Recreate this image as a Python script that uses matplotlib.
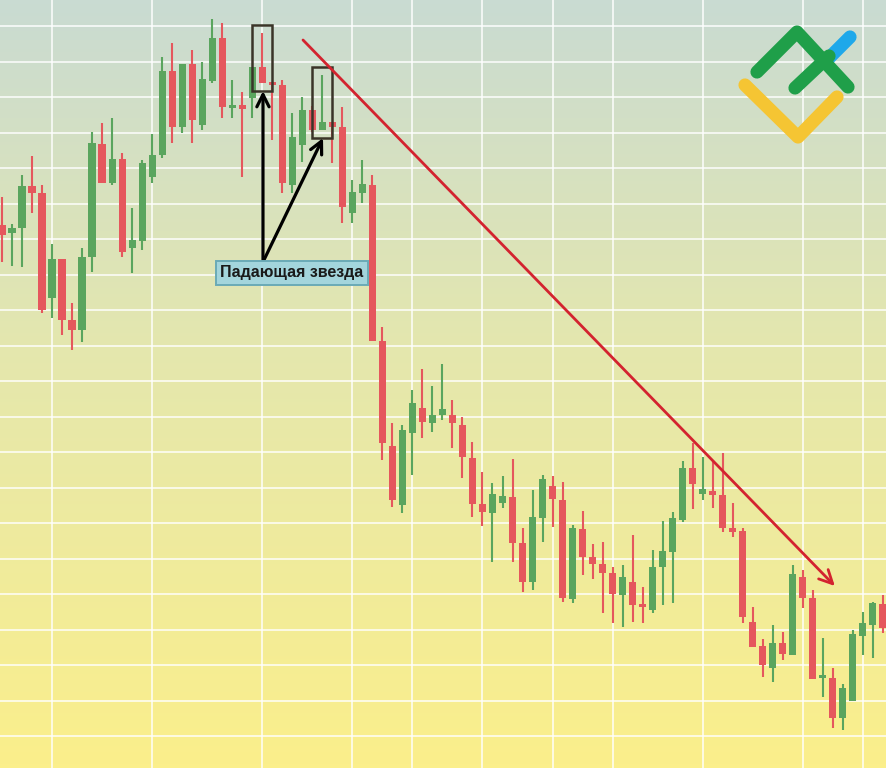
import numpy as np
import matplotlib
matplotlib.use("Agg")
import matplotlib.pyplot as plt
from matplotlib.colors import LinearSegmentedColormap
from matplotlib.lines import Line2D

# ------------ Data (OHLC, one candle per bar) ---------------
opens = [543, 535, 540, 582, 575, 470, 509, 448, 438, 511,
         624, 585, 609, 520, 527, 591, 613, 697, 641, 704,
         643, 687, 730, 660, 663, 670, 701, 686, 683, 583,
         623, 658, 638, 646, 641, 555, 575, 583, 427, 322,
         263, 335, 360, 345, 353, 353, 343, 310, 264, 255,
         265, 271, 225, 186, 250, 282, 268, 169, 239, 211,
         204, 195, 173, 186, 163, 158, 201, 216, 248, 300,
         274, 277, 273, 240, 237, 146, 122, 100, 125, 113,
         191, 170, 90, 90, 50, 67, 132, 143, 164]
highs = [571, 544, 593, 612, 583, 524, 509, 465, 520, 636,
         645, 650, 615, 560, 608, 634, 711, 725, 704, 718,
         706, 749, 745, 688, 676, 701, 735, 686, 688, 655,
         671, 662, 693, 646, 661, 588, 608, 593, 441, 345,
         343, 378, 399, 382, 404, 368, 351, 326, 296, 285,
         292, 309, 240, 278, 293, 292, 286, 243, 257, 224,
         226, 201, 203, 233, 181, 218, 247, 256, 307, 325,
         311, 308, 315, 265, 240, 161, 129, 143, 136, 203,
         198, 178, 130, 100, 84, 138, 156, 166, 173]
lows = [506, 502, 501, 555, 455, 450, 433, 418, 426, 496,
        585, 583, 511, 495, 518, 585, 610, 625, 635, 625,
        638, 685, 650, 650, 591, 650, 685, 628, 575, 575,
        606, 636, 638, 605, 545, 545, 565, 427, 308, 261,
        255, 293, 330, 336, 348, 320, 290, 251, 242, 206,
        260, 206, 176, 178, 226, 241, 166, 165, 193, 189,
        155, 145, 141, 146, 145, 155, 163, 165, 246, 259,
        268, 260, 236, 231, 145, 121, 91, 86, 108, 113,
        160, 89, 71, 40, 38, 67, 113, 110, 135]
closes = [533, 540, 582, 575, 458, 509, 448, 438, 511, 625,
          585, 609, 516, 528, 605, 613, 697, 641, 704, 648,
          689, 730, 661, 663, 659, 701, 685, 683, 585, 631,
          658, 638, 646, 641, 561, 576, 584, 427, 325, 268,
          338, 365, 346, 353, 359, 345, 311, 264, 256, 274,
          272, 225, 186, 251, 289, 269, 170, 240, 211, 204,
          195, 174, 191, 163, 161, 201, 217, 250, 300, 284,
          279, 273, 240, 236, 151, 121, 103, 125, 114, 194,
          170, 89, 92, 50, 80, 134, 145, 165, 140]

grid_candles = [5, 15, 26, 35, 41, 48, 55, 61, 70, 80, 86]
label_text = "Падающая звезда"
star_candles = [26, 32]

UP = "#5aa55e"
DOWN = "#e5575d"

o = np.array(opens)
h = np.array(highs)
l = np.array(lows)
c = np.array(closes)
idx = np.arange(len(o))

# ------------ Plot Setup ---------------
fig = plt.figure(figsize=(8.87, 7.68), dpi=100)
ax = fig.add_axes([0, 0, 1, 1])
x0, x1 = -0.2, 88.41
y0, y1 = 0, 768
ax.set_xlim(x0, x1)
ax.set_ylim(y0, y1)

# background gradient
cmap = LinearSegmentedColormap.from_list(
    "bg", [(0.0, "#fbef8b"), (0.55, "#e4e7ae"), (1.0, "#c9dbd2")])
grad = np.linspace(0, 1, 256).reshape(-1, 1)
ax.imshow(grad, cmap=cmap, extent=(x0, x1, y0, y1), origin="lower",
          aspect="auto", zorder=-2)

# grid
ax.set_xticks(grid_candles)
ax.set_yticks(np.arange(32, y1, 35.5))
ax.grid(color="white", lw=1.4, alpha=0.75)
ax.set_axisbelow(True)
ax.tick_params(length=0, labelbottom=False, labelleft=False)
for s in ax.spines.values():
    s.set_visible(False)

# candles
colors = np.where(c >= o, UP, DOWN)
ax.vlines(idx, l, h, colors=colors, lw=1.5, zorder=2)
body_lo = np.minimum(o, c)
body_h = np.maximum(np.abs(c - o), 3)
ax.bar(idx, body_h, bottom=body_lo, width=0.72, color=colors, lw=0, zorder=3)

# shooting star boxes
for i in star_candles:
    ax.add_patch(plt.Rectangle((i - 1.0, l[i] - 8), 2.0, h[i] - l[i] + 16,
                               fill=False, ec="#3a3428", lw=1.8, zorder=4))

# label + arrows
lx, ly = 26.07, 506
for i in star_candles:
    ax.annotate("", xy=(i + 0.07, l[i] - 8), xytext=(lx, ly),
                arrowprops=dict(arrowstyle="->", lw=2.3, color="black",
                                mutation_scale=22, shrinkA=0, shrinkB=0),
                zorder=5)
ax.text(28.95, 495, label_text, fontsize=11.5, fontweight="bold",
        family=["Liberation Sans", "DejaVu Sans"], color="#1a1a1a",
        ha="center", va="center", zorder=6,
        bbox=dict(boxstyle="square,pad=0.28", fc="#a3d5dc", ec="#6aaab6", lw=1.4))

# trend line
ax.annotate("", xy=(83.2, 182), xytext=(30.07, 728),
            arrowprops=dict(arrowstyle="->", lw=2.0, color="#d3232f",
                            mutation_scale=24, shrinkA=0, shrinkB=0),
            zorder=5)

# logo (figure pixels)
W, H = 887, 768
logo = [
    ([(745, 85), (798, 137), (837, 97)], "#f5c533"),
    ([(827, 60), (850, 37)], "#1ea8ea"),
    ([(757, 72), (797, 32), (848, 87)], "#1f9f49"),
    ([(795, 88), (829, 56)], "#1f9f49"),
]
for pts, col in logo:
    xs = [p[0] / W for p in pts]
    ys = [1 - p[1] / H for p in pts]
    fig.add_artist(Line2D(xs, ys, lw=9.5, color=col, solid_capstyle="round",
                          solid_joinstyle="round", transform=fig.transFigure))

fig.savefig("out.png", dpi=100)
